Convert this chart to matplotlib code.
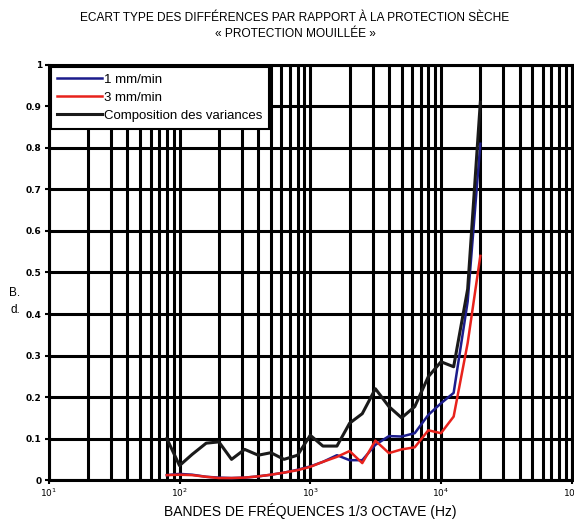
import numpy as np
import matplotlib.pyplot as plt
from matplotlib.ticker import LogLocator, NullFormatter, FixedLocator

# 1/3 octave band centre frequencies (Hz)
freqs = [80, 100, 125, 160, 200, 250, 315, 400, 500, 630, 800, 1000, 1250,
         1600, 2000, 2500, 3150, 4000, 5000, 6300, 8000, 10000, 12500, 16000, 20000]

# standard deviation of differences, 1 mm/min
sd_1mm = [0.012, 0.015, 0.013, 0.008, 0.006, 0.005, 0.006, 0.009, 0.013, 0.018,
          0.025, 0.033, 0.044, 0.060, 0.048, 0.048, 0.085, 0.106, 0.105, 0.113,
          0.157, 0.185, 0.210, 0.430, 0.810]

# 3 mm/min
sd_3mm = [0.012, 0.013, 0.012, 0.008, 0.005, 0.005, 0.006, 0.009, 0.013, 0.018,
          0.024, 0.032, 0.044, 0.056, 0.070, 0.041, 0.095, 0.065, 0.074, 0.079,
          0.120, 0.113, 0.153, 0.330, 0.540]

# composition of variances
sd_comp = [0.100, 0.035, 0.062, 0.089, 0.092, 0.050, 0.074, 0.060, 0.066, 0.050,
           0.060, 0.108, 0.082, 0.082, 0.137, 0.160, 0.220, 0.177, 0.150, 0.177,
           0.249, 0.285, 0.273, 0.460, 0.910]

y_ticks = [0, 0.1, 0.2, 0.3, 0.4, 0.5, 0.6, 0.7, 0.8, 0.9, 1]
y_labels = ['0', '0.1', '0.2', '0.3', '0.4', '0.5', '0.6', '0.7', '0.8', '0.9', '1']

font = ['Liberation Sans', 'DejaVu Sans']

fig = plt.figure(figsize=(5.74, 5.23), dpi=100)
ax = fig.add_axes([0.085, 0.082, 0.911, 0.794])

ax.set_xscale('log')
ax.set_xlim(10, 1e5)
ax.set_ylim(0, 1)

ax.xaxis.set_major_locator(LogLocator(base=10, numticks=10))
ax.xaxis.set_minor_locator(LogLocator(base=10, subs=np.arange(2, 10), numticks=100))
ax.xaxis.set_minor_formatter(NullFormatter())
ax.yaxis.set_major_locator(FixedLocator(y_ticks))
ax.set_yticklabels(y_labels)

ax.grid(True, which='both', axis='x', color='black', linewidth=2.2)
ax.grid(True, which='major', axis='y', color='black', linewidth=2.2)
ax.set_axisbelow(True)
for s in ax.spines.values():
    s.set_linewidth(2.2)

ax.tick_params(axis='both', which='major', labelsize=6.5, length=3, width=1.5, pad=2)
ax.tick_params(axis='x', which='minor', length=0)
for lab in ax.get_yticklabels():
    lab.set_fontweight('bold')

ax.plot(freqs, sd_1mm, color='#1c1c8c', linewidth=1.8, label='1 mm/min', zorder=3)
ax.plot(freqs, sd_3mm, color='#e8221c', linewidth=1.8, label='3 mm/min', zorder=3)
ax.plot(freqs, sd_comp, color='#1a1a1a', linewidth=2.2, label='Composition des variances', zorder=4)

leg = ax.legend(loc='upper left', borderaxespad=0.15, fancybox=False, framealpha=1,
                edgecolor='black', handlelength=3.4, handletextpad=0.1,
                labelspacing=0.45, borderpad=0.5, prop={'family': font, 'size': 9.5})
leg.get_frame().set_linewidth(1.5)

fig.text(0.514, 0.966, 'ECART TYPE DES DIFFÉRENCES PAR RAPPORT À LA PROTECTION SÈCHE',
         ha='center', va='center', fontsize=8.6, family=font)
fig.text(0.514, 0.935, '« PROTECTION MOUILLÉE »',
         ha='center', va='center', fontsize=8.6, family=font)
fig.text(0.54, 0.022, 'BANDES DE FRÉQUENCES 1/3 OCTAVE (Hz)',
         ha='center', va='center', fontsize=10, family=font)
fig.text(0.026, 0.424, 'B.\nd.', ha='center', va='center', fontsize=8.5,
         family=font, linespacing=1.6)

fig.savefig('out.png', dpi=100)
